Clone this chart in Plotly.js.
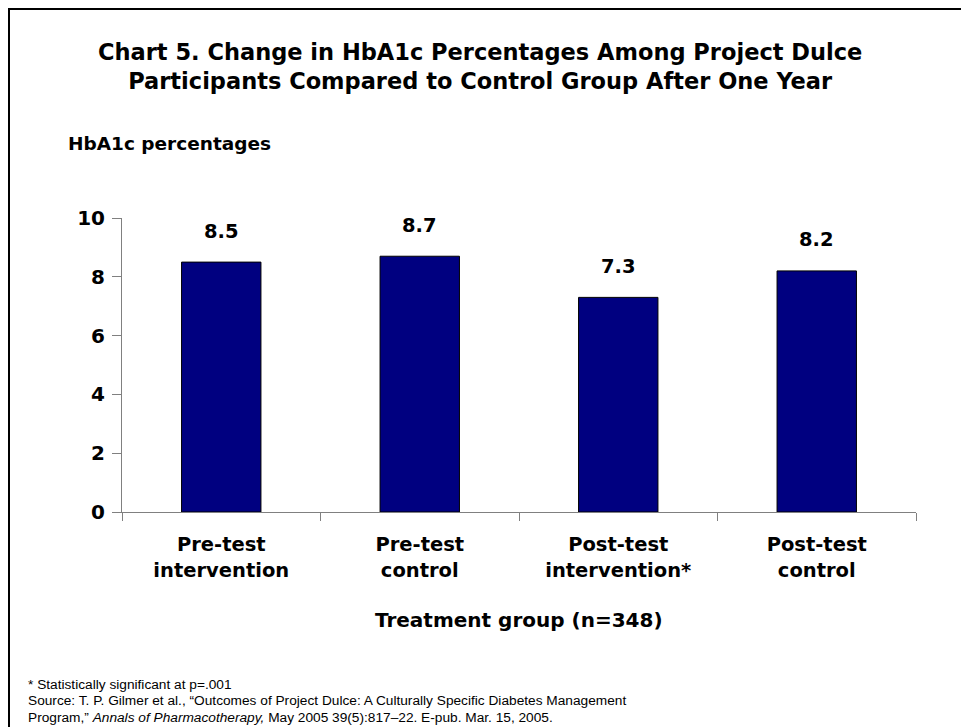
<!DOCTYPE html>
<html>
<head>
<meta charset="utf-8">
<script src="https://cdn.plot.ly/plotly-3.0.1.min.js"></script>
<style>
html,body{margin:0;padding:0;background:#fff;}
#chart{width:961px;height:727px;}
</style>
</head>
<body>
<div id="chart"></div>
<script>
const categories = ["Pre-test<br>intervention", "Pre-test<br>control", "Post-test<br>intervention*", "Post-test<br>control"];
const values = [8.5, 8.7, 7.3, 8.2];
const valueLabels = ["8.5", "8.7", "7.3", "8.2"];
const yTicks = [0, 2, 4, 6, 8, 10];
const titleText = "Chart 5. Change in HbA1c Percentages Among Project Dulce<br>Participants Compared to Control Group After One Year";
const yTitleText = "HbA1c percentages";
const xTitleText = "Treatment group (n=348)";
const footnotes = [
  "* Statistically significant at p=.001",
  "Source: T. P. Gilmer et al., \u201cOutcomes of Project Dulce: A Culturally Specific Diabetes Management",
  "Program,\u201d <i>Annals of Pharmacotherapy,</i> May 2005 39(5):817\u201322. E-pub. Mar. 15, 2005."
];

const W = 961, H = 727;
const L = 122, R = 45, T = 218, B = 215;
const PW = W - L - R, PH = H - T - B;
const px = x => (x - L) / PW;
const py = y => (H - B - y) / PH;

const heavy = "DejaVu Sans, Arial Black, sans-serif";
const arial = "Liberation Sans, Arial, sans-serif";

const annotations = values.map((v, i) => ({
  x: categories[i], y: v, xref: "x", yref: "y",
  text: "<b>" + valueLabels[i] + "</b>", showarrow: false,
  yshift: 31, font: {family: heavy, size: 19.5, color: "#000"}
}));
annotations.push({
  x: px(66), y: py(143), xref: "paper", yref: "paper", xanchor: "left", yanchor: "middle",
  text: "<b>" + yTitleText + "</b>", showarrow: false,
  font: {family: heavy, size: 18.5, color: "#000"}
});
annotations.push({
  x: 0.5, y: py(620), xref: "paper", yref: "paper", xanchor: "center", yanchor: "middle",
  text: "<b>" + xTitleText + "</b>", showarrow: false,
  font: {family: heavy, size: 20, color: "#000"}
});
annotations.push({
  x: px(480), y: py(66), xref: "paper", yref: "paper", xanchor: "center", yanchor: "middle",
  text: "<b>" + titleText + "</b>", showarrow: false,
  font: {family: heavy, size: 22.5, color: "#000"}
});
footnotes.forEach((f, i) => {
  annotations.push({
    x: px(26), y: py(684 + i * 16.5), xref: "paper", yref: "paper", xanchor: "left", yanchor: "middle",
    text: f, showarrow: false, font: {family: arial, size: 13.7, color: "#000"}
  });
});

const data = [{
  type: "bar", x: categories, y: values,
  marker: {color: "#000080", line: {color: "#000000", width: 1}},
  width: 0.4, hoverinfo: "none"
}];

const layout = {
  width: W, height: H,
  margin: {l: L, r: R, t: T, b: B, pad: 0},
  paper_bgcolor: "#fff", plot_bgcolor: "#fff",
  showlegend: false,
  xaxis: {
    type: "category", showline: true, linecolor: "#808080", linewidth: 1,
    tickvals: categories, ticktext: categories.map(c => "<b>" + c + "</b>"),
    ticks: "outside", tickson: "boundaries", ticklen: 8, tickcolor: "#808080",
    ticklabelstandoff: 15,
    showgrid: false, zeroline: false,
    tickfont: {family: heavy, size: 19.5, color: "#000"}
  },
  yaxis: {
    range: [0, 10], tickvals: yTicks, ticktext: yTicks.map(t => "<b>" + t + "</b>"),
    showline: true, linecolor: "#808080", linewidth: 1,
    ticks: "outside", ticklen: 9, tickcolor: "#808080",
    ticklabelstandoff: 3,
    showgrid: false, zeroline: false,
    tickfont: {family: heavy, size: 20, color: "#000"}
  },
  annotations: annotations,
  shapes: [
    {type: "line", xref: "paper", yref: "paper", x0: px(8), x1: px(961), y0: py(9), y1: py(9), line: {color: "#000", width: 2}},
    {type: "line", xref: "paper", yref: "paper", x0: px(9), x1: px(9), y0: py(8), y1: py(727), line: {color: "#000", width: 2}}
  ]
};

Plotly.newPlot("chart", data, layout, {displayModeBar: false, staticPlot: true});
</script>
</body>
</html>
